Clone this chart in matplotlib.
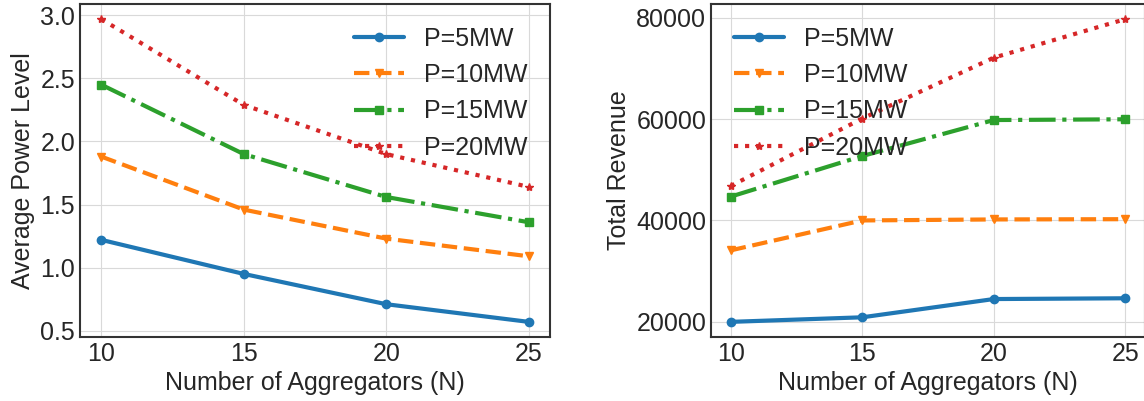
import matplotlib
matplotlib.use("Agg")
import matplotlib.pyplot as plt

# data
n_aggr = [10, 15, 20, 25]
labels = ["P=5MW", "P=10MW", "P=15MW", "P=20MW"]

power_5 = [1.22, 0.95, 0.71, 0.57]
power_10 = [1.88, 1.46, 1.23, 1.09]
power_15 = [2.45, 1.90, 1.56, 1.36]
power_20 = [2.97, 2.29, 1.90, 1.64]

revenue_5 = [20000, 20900, 24500, 24650]
revenue_10 = [34100, 40000, 40200, 40250]
revenue_15 = [44700, 52700, 59800, 59950]
revenue_20 = [46800, 60100, 72100, 79700]

plt.style.use("seaborn-v0_8-whitegrid")
plt.rcParams["font.family"] = ["Liberation Sans", "DejaVu Sans"]
plt.rcParams["axes.edgecolor"] = "0.2"
plt.rcParams["axes.linewidth"] = 1.5
plt.rcParams["grid.color"] = "0.85"
plt.rcParams["text.color"] = "0.15"
plt.rcParams["axes.labelcolor"] = "0.15"
plt.rcParams["xtick.color"] = "0.15"
plt.rcParams["ytick.color"] = "0.15"

styles = [("-", "o", "#1f77b4"), ("--", "v", "#ff7f0e"),
          ("-.", "s", "#2ca02c"), (":", "*", "#d62728")]

fig = plt.figure(figsize=(11.44, 4.01), dpi=100)
W, H = 1144.0, 401.0
ax1 = fig.add_axes([80 / W, 64 / H, 470 / W, 333 / H])
ax2 = fig.add_axes([711 / W, 64 / H, 434 / W, 333 / H])


def draw(ax, series, ylabel, loc):
    for vals, lab, (ls, mk, col) in zip(series, labels, styles):
        ax.plot(n_aggr, vals, linestyle=ls, marker=mk, color=col,
                linewidth=3, markersize=6, label=lab)
    ax.set_xticks(n_aggr)
    ax.set_xlabel("Number of Aggregators (N)", fontsize=18)
    ax.set_ylabel(ylabel, fontsize=18)
    ax.tick_params(labelsize=18)
    ax.legend(loc=loc, fontsize=18, frameon=False)


draw(ax1, [power_5, power_10, power_15, power_20], "Average Power Level",
     "upper right")
ax1.set_yticks([0.5, 1.0, 1.5, 2.0, 2.5, 3.0])

draw(ax2, [revenue_5, revenue_10, revenue_15, revenue_20], "Total Revenue",
     "upper left")
ax2.set_yticks([20000, 40000, 60000, 80000])

fig.savefig("out.png", dpi=100)
